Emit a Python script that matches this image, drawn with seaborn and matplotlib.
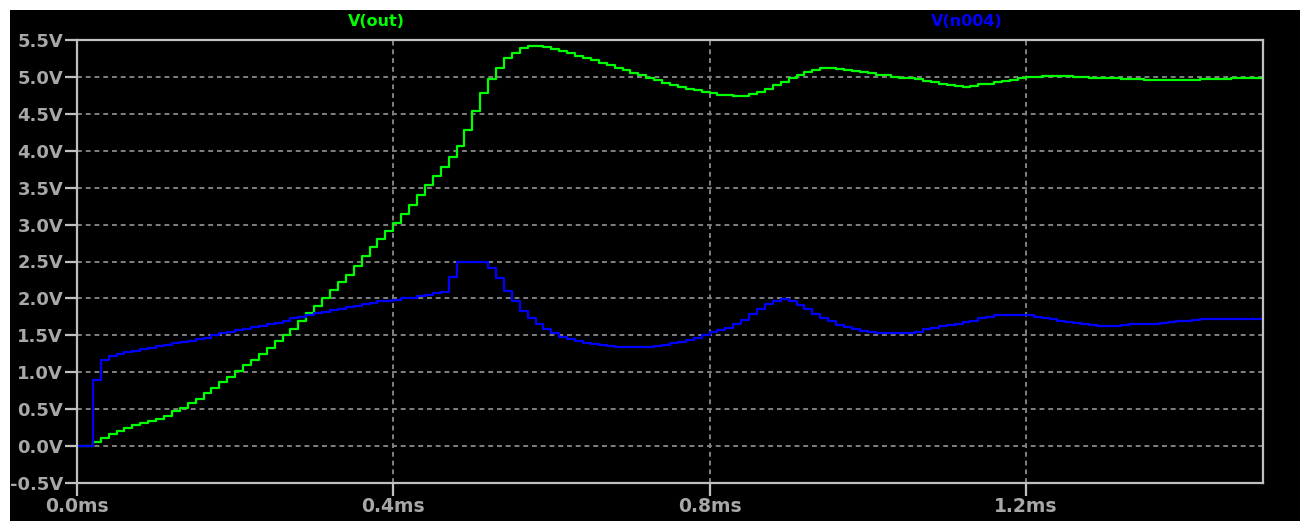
import numpy as np
import pandas as pd
import matplotlib
matplotlib.use("Agg")
import matplotlib.pyplot as plt
import seaborn as sns
from matplotlib.patches import Rectangle

# transient simulation, one sample per switching period (10 us)
sample_period_ms = 0.01

v_out = [
    0.00, 0.00, 0.05, 0.11, 0.16, 0.21, 0.25, 0.28, 0.31, 0.34,
    0.37, 0.41, 0.47, 0.52, 0.58, 0.64, 0.72, 0.79, 0.87, 0.94,
    1.02, 1.10, 1.17, 1.25, 1.33, 1.42, 1.50, 1.59, 1.69, 1.80,
    1.90, 2.01, 2.11, 2.22, 2.32, 2.44, 2.57, 2.69, 2.80, 2.91,
    3.02, 3.14, 3.27, 3.40, 3.53, 3.66, 3.78, 3.91, 4.07, 4.28,
    4.54, 4.78, 4.97, 5.12, 5.26, 5.32, 5.39, 5.42, 5.42, 5.40,
    5.38, 5.35, 5.32, 5.29, 5.26, 5.23, 5.19, 5.16, 5.12, 5.09,
    5.05, 5.02, 4.99, 4.96, 4.92, 4.89, 4.87, 4.84, 4.82, 4.80,
    4.78, 4.76, 4.75, 4.74, 4.74, 4.77, 4.80, 4.84, 4.89, 4.93,
    4.98, 5.03, 5.06, 5.09, 5.12, 5.12, 5.11, 5.10, 5.08, 5.06,
    5.05, 5.03, 5.02, 5.00, 4.99, 4.98, 4.97, 4.95, 4.93, 4.91,
    4.89, 4.88, 4.87, 4.88, 4.90, 4.91, 4.93, 4.95, 4.96, 4.98,
    5.00, 5.00, 5.01, 5.01, 5.01, 5.01, 5.00, 5.00, 4.99, 4.99,
    4.98, 4.98, 4.97, 4.97, 4.97, 4.96, 4.96, 4.96, 4.96, 4.96,
    4.96, 4.96, 4.97, 4.97, 4.97, 4.97, 4.98, 4.98, 4.98, 4.98,
    4.98,
]

v_n004 = [
    0.00, 0.00, 0.90, 1.17, 1.22, 1.25, 1.27, 1.29, 1.31, 1.33,
    1.35, 1.37, 1.39, 1.41, 1.43, 1.45, 1.47, 1.50, 1.53, 1.55,
    1.57, 1.59, 1.61, 1.63, 1.65, 1.67, 1.70, 1.73, 1.75, 1.78,
    1.80, 1.82, 1.84, 1.86, 1.88, 1.90, 1.92, 1.94, 1.96, 1.97,
    1.98, 2.00, 2.01, 2.03, 2.05, 2.07, 2.09, 2.29, 2.50, 2.50,
    2.50, 2.50, 2.41, 2.27, 2.10, 1.96, 1.83, 1.73, 1.66, 1.59,
    1.53, 1.48, 1.45, 1.42, 1.40, 1.38, 1.37, 1.35, 1.34, 1.34,
    1.34, 1.34, 1.34, 1.35, 1.37, 1.39, 1.41, 1.44, 1.46, 1.50,
    1.54, 1.57, 1.60, 1.66, 1.71, 1.79, 1.86, 1.92, 1.97, 1.99,
    1.97, 1.91, 1.85, 1.79, 1.74, 1.69, 1.64, 1.61, 1.58, 1.56,
    1.55, 1.53, 1.53, 1.53, 1.53, 1.53, 1.55, 1.58, 1.60, 1.62,
    1.64, 1.66, 1.68, 1.70, 1.73, 1.75, 1.77, 1.78, 1.78, 1.78,
    1.77, 1.75, 1.73, 1.72, 1.70, 1.68, 1.67, 1.65, 1.64, 1.63,
    1.63, 1.63, 1.64, 1.65, 1.65, 1.66, 1.66, 1.67, 1.68, 1.69,
    1.70, 1.71, 1.72, 1.72, 1.72, 1.72, 1.72, 1.72, 1.72, 1.72,
    1.72,
]

trace_names = ["V(out)", "V(n004)"]
trace_colors = ["#00ff00", "#0000ff"]
x_ticks = [0.0, 0.4, 0.8, 1.2]
x_tick_labels = ["0.0ms", "0.4ms", "0.8ms", "1.2ms"]
y_ticks = [-0.5, 0.0, 0.5, 1.0, 1.5, 2.0, 2.5, 3.0, 3.5, 4.0, 4.5, 5.0, 5.5]

t = np.arange(len(v_out)) * sample_period_ms
df = pd.concat([
    pd.DataFrame({"time": t, "volt": v_out, "trace": trace_names[0]}),
    pd.DataFrame({"time": t, "volt": v_n004, "trace": trace_names[1]}),
])

fig = plt.figure(figsize=(13, 5.21), dpi=100, facecolor="white")
fig.patches.append(Rectangle((10 / 1300, 0), 1290 / 1300, 511 / 521,
                             transform=fig.transFigure, facecolor="black",
                             edgecolor="none", zorder=-10))
ax = fig.add_axes([77 / 1300, 38 / 521, 1186 / 1300, 443 / 521])
ax.set_zorder(1)
ax.set_facecolor("black")

sns.lineplot(data=df, x="time", y="volt", hue="trace",
             palette=dict(zip(trace_names, trace_colors)),
             drawstyle="steps-post", linewidth=1.6, estimator=None,
             sort=False, legend=False, ax=ax)

ax.set_xlim(0, 1.5)
ax.set_ylim(-0.5, 5.5)
ax.set_xticks(x_ticks)
ax.set_xticklabels(x_tick_labels)
ax.set_yticks(y_ticks)
ax.set_yticklabels([f"{v:.1f}V" for v in y_ticks])
ax.set_xlabel("")
ax.set_ylabel("")

ax.grid(True, color="#808080", linestyle=(0, (2.5, 2)), linewidth=1.4)
ax.set_axisbelow(True)
for s in ax.spines.values():
    s.set_color("#c0c0c0")
    s.set_linewidth(1.6)
ax.tick_params(axis="y", colors="#c0c0c0", width=1.6, length=9, pad=1,
               labelcolor="#a8a8a8", labelsize=13)
ax.tick_params(axis="x", colors="#c0c0c0", width=1.6, length=9, pad=1,
               labelcolor="#a8a8a8", labelsize=13.5)
for lab in ax.get_xticklabels() + ax.get_yticklabels():
    lab.set_fontweight("bold")

fig.text(376 / 1300, 1 - 22 / 521, trace_names[0], color=trace_colors[0],
         fontsize=11.5, fontweight="bold", ha="center", va="center", zorder=2)
fig.text(967 / 1300, 1 - 22 / 521, trace_names[1], color=trace_colors[1],
         fontsize=11.5, fontweight="bold", ha="center", va="center", zorder=2)

fig.savefig("out.png", dpi=100, facecolor="white")
